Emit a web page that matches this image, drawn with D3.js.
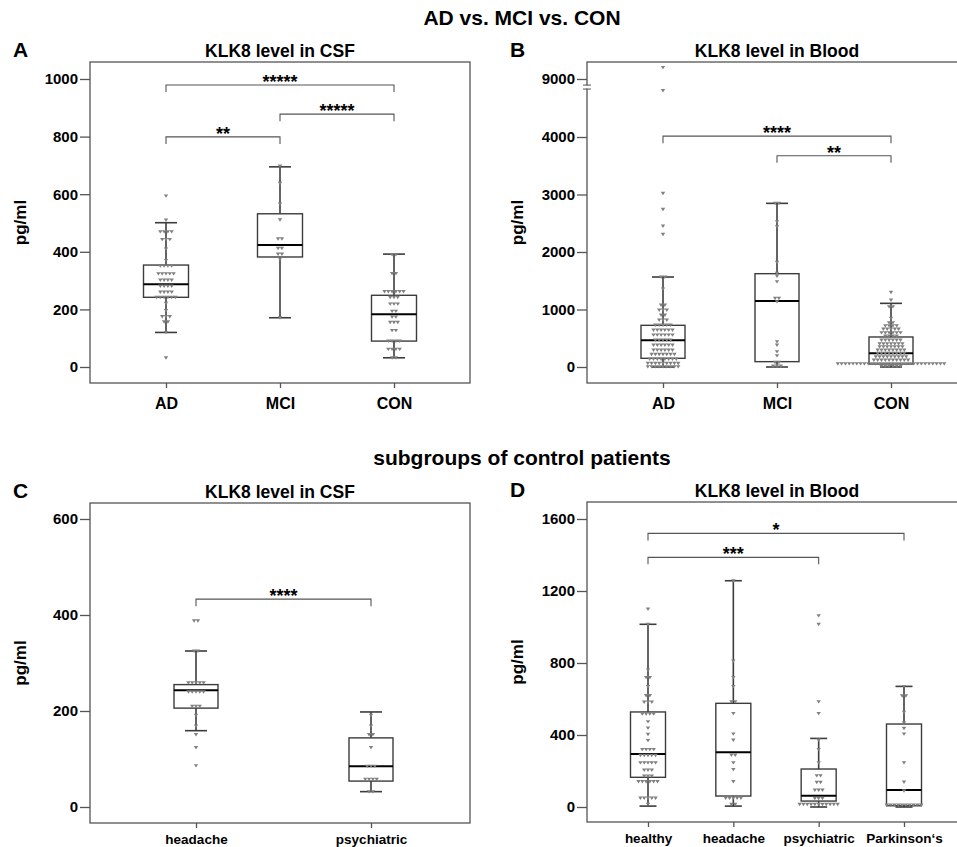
<!DOCTYPE html>
<html>
<head>
<meta charset="utf-8">
<script src="https://cdn.jsdelivr.net/npm/d3@7"></script>
<style>
body { margin: 0; background: #fff; }
svg { font-family: "Liberation Sans", Arial, sans-serif; font-weight: bold; }
</style>
</head>
<body>
<script>
// categories
var mainGroups = ["AD", "MCI", "CON"],
    csfSubgroups = ["headache", "psychiatric"],
    bloodSubgroups = ["healthy", "headache", "psychiatric", "Parkinson‘s"];

var csfAD = [[594,1],[510,1],[470,4],[443,3],[410,1],[370,1],[351,4],[324,5],[302,4],[281,4],[260,4],[242,6],[221,1],[196,1],[175,3],[157,2],[120,1],[32,1]],
    csfMCI = [[698,1],[638,1],[566,1],[511,1],[445,2],[412,2],[392,2],[375,1],[171,1]],
    csfCON = [[390,2],[325,2],[262,6],[242,3],[219,3],[194,2],[174,2],[155,3],[127,2],[90,4],[62,4],[32,2]];

var bloodAD = [[9200,1],[8800,1],[3020,1],[2742,1],[2452,1],[2307,1],[1565,2],[1357,1],[1078,2],[991,3],[904,2],[817,3],[730,5],[643,6],[557,6],[470,5],[383,6],[296,6],[220,7],[139,8],[64,9],[6,9]],
    bloodMCI = [[2846,2],[2527,1],[2440,1],[1820,1],[1629,1],[1583,1],[1484,1],[1194,2],[1136,1],[440,1],[383,1],[267,1],[197,1],[81,2],[17,3]],
    bloodCON = [[1299,1],[1165,1],[1049,2],[846,1],[771,2],[719,4],[661,5],[597,6],[539,4],[470,6],[405,7],[353,7],[296,8],[238,8],[180,9],[122,10],[57,29],[17,6]];

var subCsfHeadache = [[388,2],[325,2],[259,5],[240,5],[210,3],[191,1],[169,1],[151,1],[124,1],[86,1]],
    subCsfPsychiatric = [[191,1],[169,1],[151,2],[124,1],[85,3],[58,4],[32,2]];

var subBloodHealthy = [[1100,1],[1015,1],[761,1],[720,2],[669,1],[619,2],[583,3],[517,4],[474,1],[439,1],[404,1],[370,1],[320,4],[287,5],[246,5],[205,3],[172,3],[141,6],[50,5],[15,1]],
    subBloodHeadache = [[1257,1],[811,1],[720,1],[669,1],[585,2],[520,1],[406,1],[372,1],[289,2],[246,1],[209,1],[141,1],[50,5],[15,2]],
    subBloodPsychiatric = [[1063,1],[1015,1],[585,1],[520,1],[372,1],[320,1],[246,1],[174,2],[137,2],[94,3],[48,3],[15,11]],
    subBloodParkinson = [[670,1],[618,2],[526,1],[468,1],[437,1],[406,1],[246,1],[139,1],[90,1],[11,10]];

// box plots: [whisker low, q1, median, q3, whisker high]
var csfBoxes = [[120,242,287,354,501],[171,382,424,532,695],[32,90,183,249,392]],
    bloodBoxes = [[0,151,464,725,1565],[0,93,1148,1623,2846],[0,52,238,522,1107]],
    subCsfBoxes = [[159,206,243,255,325],[32,54,85,144,198]],
    subBloodBoxes = [[5,165,294,528,1015],[5,61,304,576,1257],[0,33,63,211,381],[0,7,94,461,670]];

// tick labels
var csfTicks = [0,200,400,600,800,1000],
    bloodTicks = [0,1000,2000,3000,4000,9000],
    subCsfTicks = [0,200,400,600],
    subBloodTicks = [0,400,800,1200,1600];

// significance brackets: [from, to, level, stars]
var csfSig = [["AD","CON",979,"*****"],["MCI","CON",878,"*****"],["AD","MCI",799,"**"]],
    bloodSig = [["AD","CON",4110,"****"],["MCI","CON",3675,"**"]],
    subCsfSig = [["headache","psychiatric",433,"****"]],
    subBloodSig = [["healthy","Parkinson‘s",1520,"*"],["healthy","psychiatric",1387,"***"]];

var svg = d3.select("body").append("svg")
    .attr("width", 957)
    .attr("height", 847);

var lineColor = "#555", dotColor = "#808080";

svg.append("text").attr("x", 522).attr("y", 25).attr("text-anchor", "middle")
    .style("font-size", "21px").text("AD vs. MCI vs. CON");
svg.append("text").attr("x", 522).attr("y", 465).attr("text-anchor", "middle")
    .style("font-size", "21px").text("subgroups of control patients");

var panels = [
    {letter: "A", title: "KLK8 level in CSF", cats: mainGroups, series: [csfAD, csfMCI, csfCON], boxes: csfBoxes,
     ticks: csfTicks, sig: csfSig, frame: {x: 90, y: 62, w: 380, h: 321}, xRange: [166, 394],
     yDomain: [0, 1000], yRange: [367, 79], boxW: 45, capW: 22, catFont: 16, catPad: 10},
    {letter: "B", title: "KLK8 level in Blood", cats: mainGroups, series: [bloodAD, bloodMCI, bloodCON], boxes: bloodBoxes,
     ticks: bloodTicks, sig: bloodSig, frame: {x: 587, y: 62, w: 380, h: 321}, xRange: [663, 891],
     yDomain: [0, 4000, 8600, 9000, 9500], yRange: [367, 137, 102, 79, 50], boxW: 44, capW: 22, catFont: 16, catPad: 10,
     brk: 8860},
    {letter: "C", title: "KLK8 level in CSF", cats: csfSubgroups, series: [subCsfHeadache, subCsfPsychiatric], boxes: subCsfBoxes,
     ticks: subCsfTicks, sig: subCsfSig, frame: {x: 90, y: 503, w: 380, h: 320}, xRange: [196, 371],
     yDomain: [0, 600], yRange: [807, 519], boxW: 44, capW: 22, catFont: 13.5, catPad: 6},
    {letter: "D", title: "KLK8 level in Blood", cats: bloodSubgroups,
     series: [subBloodHealthy, subBloodHeadache, subBloodPsychiatric, subBloodParkinson], boxes: subBloodBoxes,
     ticks: subBloodTicks, sig: subBloodSig, frame: {x: 587, y: 502, w: 380, h: 320}, xRange: [648, 904],
     yDomain: [0, 1600], yRange: [807, 519], boxW: 35, capW: 17, catFont: 13.5, catPad: 6}
];

panels.forEach(drawPanel);

function drawPanel(p) {
    var f = p.frame;
    var g = svg.append("g");

    var x = d3.scalePoint().domain(p.cats).range(p.xRange);
    var y = d3.scaleLinear().domain(p.yDomain).range(p.yRange);

    // panel letter, title, y label
    g.append("text").attr("x", f.x - 77).attr("y", f.y - 5)
        .style("font-size", "21px").text(p.letter);
    g.append("text").attr("x", f.x + 190).attr("y", f.y - 5).attr("text-anchor", "middle")
        .style("font-size", "17.5px").text(p.title);
    g.append("text")
        .attr("transform", "translate(" + (f.x - 64) + "," + (f.y + f.h / 2) + ") rotate(-90)")
        .attr("text-anchor", "middle")
        .style("font-size", "17px").text("pg/ml");

    g.append("rect")
        .attr("x", f.x).attr("y", f.y).attr("width", f.w).attr("height", f.h)
        .attr("fill", "none").attr("stroke", lineColor).attr("stroke-width", 1.3);

    var yAxis = g.append("g")
        .attr("transform", "translate(" + f.x + ",0)")
        .call(d3.axisLeft(y).tickValues(p.ticks).tickSize(10).tickPadding(2).tickFormat(d3.format("d")));
    yAxis.select(".domain").remove();
    yAxis.selectAll("line").attr("stroke", lineColor).attr("stroke-width", 1.3);
    yAxis.selectAll("text").attr("fill", "#000").style("font-size", "15px")
        .style("font-family", "Liberation Sans, Arial, sans-serif").style("font-weight", "bold");

    var xAxis = g.append("g")
        .attr("transform", "translate(0," + (f.y + f.h) + ")")
        .call(d3.axisBottom(x).tickSize(5).tickPadding(p.catPad));
    xAxis.select(".domain").remove();
    xAxis.selectAll("line").attr("stroke", lineColor).attr("stroke-width", 1.3);
    xAxis.selectAll("text").attr("fill", "#000").style("font-size", p.catFont + "px")
        .style("font-family", "Liberation Sans, Arial, sans-serif").style("font-weight", "bold");

    if (p.brk) {
        var by = y(p.brk);
        g.append("rect").attr("x", f.x - 3).attr("y", by - 1.5).attr("width", 6).attr("height", 3).attr("fill", "#fff");
        [by - 2, by + 2].forEach(function(yy) {
            g.append("line").attr("x1", f.x - 4).attr("x2", f.x + 4).attr("y1", yy).attr("y2", yy)
                .attr("stroke", lineColor).attr("stroke-width", 1);
        });
    }

    // whiskers
    var box = g.selectAll(".box").data(p.boxes).enter().append("g").attr("class", "box")
        .attr("transform", function(d, i) { return "translate(" + x(p.cats[i]) + ",0)"; });

    box.append("line").attr("x1", 0).attr("x2", 0)
        .attr("y1", function(d) { return y(d[0]); })
        .attr("y2", function(d) { return y(d[4]); })
        .attr("stroke", "#3c3c3c").attr("stroke-width", 1.6);
    box.append("line").attr("x1", -p.capW / 2).attr("x2", p.capW / 2)
        .attr("y1", function(d) { return y(d[0]); }).attr("y2", function(d) { return y(d[0]); })
        .attr("stroke", "#3c3c3c").attr("stroke-width", 1.6);
    box.append("line").attr("x1", -p.capW / 2).attr("x2", p.capW / 2)
        .attr("y1", function(d) { return y(d[4]); }).attr("y2", function(d) { return y(d[4]); })
        .attr("stroke", "#3c3c3c").attr("stroke-width", 1.6);
    box.append("rect")
        .attr("x", -p.boxW / 2).attr("width", p.boxW)
        .attr("y", function(d) { return y(d[3]); })
        .attr("height", function(d) { return y(d[1]) - y(d[3]); })
        .attr("fill", "#fff").attr("stroke", "#3c3c3c").attr("stroke-width", 1.4);

    // points, laid out side by side where values repeat
    var tri = "M-2.2,-1.5L2.2,-1.5L0,1.9Z";
    p.series.forEach(function(rows, i) {
        var pts = [];
        rows.forEach(function(r) {
            for (var k = 0; k < r[1]; k++) pts.push({v: r[0], dx: (k - (r[1] - 1) / 2) * 3.8});
        });
        g.selectAll(".pt" + i).data(pts).enter().append("path")
            .attr("class", "pt" + i)
            .attr("d", tri)
            .attr("transform", function(d) { return "translate(" + (x(p.cats[i]) + d.dx) + "," + y(d.v) + ")"; })
            .attr("fill", dotColor);
    });

    box.append("line").attr("x1", -p.boxW / 2).attr("x2", p.boxW / 2)
        .attr("y1", function(d) { return y(d[2]); }).attr("y2", function(d) { return y(d[2]); })
        .attr("stroke", "#000").attr("stroke-width", 2);

    // significance brackets
    var sig = g.selectAll(".sig").data(p.sig).enter().append("g");
    sig.append("path")
        .attr("d", function(d) {
            var x1 = x(d[0]), x2 = x(d[1]), yy = y(d[2]);
            return "M" + x1 + "," + (yy + 7) + "V" + yy + "H" + x2 + "V" + (yy + 7);
        })
        .attr("fill", "none").attr("stroke", lineColor).attr("stroke-width", 1.1);
    sig.append("text")
        .attr("x", function(d) { return (x(d[0]) + x(d[1])) / 2; })
        .attr("y", function(d) { return y(d[2]) + 3; })
        .attr("text-anchor", "middle").style("font-size", "18px")
        .text(function(d) { return d[3]; });
}
</script>
</body>
</html>
